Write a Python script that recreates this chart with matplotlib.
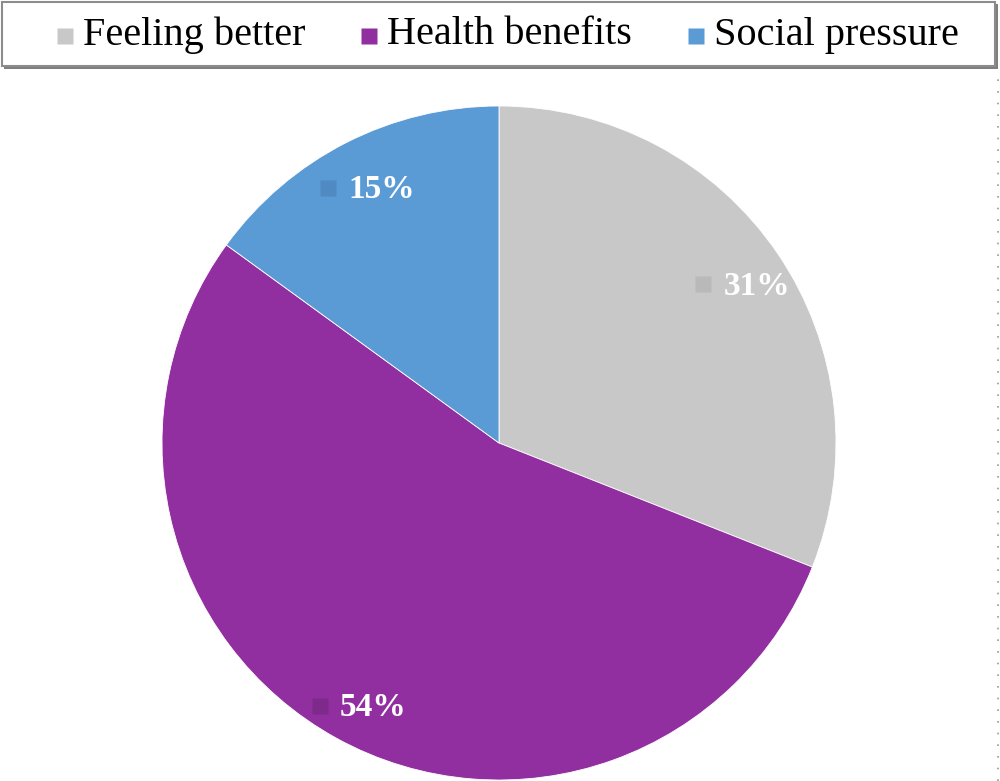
import numpy as np
import matplotlib.pyplot as plt
from matplotlib.patches import Rectangle

# Data
categories = ['Feeling better', 'Health benefits', 'Social pressure']
shares = [31, 54, 15]
colors = ['#c8c8c8', '#912fa0', '#5b9bd5']
marker_colors = ['#b9b9b9', '#7d2a8b', '#4f8ac2']

plt.rcParams['font.family'] = ['Liberation Serif', 'DejaVu Serif']

W, H = 1000, 781
fig = plt.figure(figsize=(W / 100, H / 100), dpi=100)
ax = fig.add_axes([0, 0, 1, 1])
ax.set_xlim(0, W)
ax.set_ylim(0, H)
ax.set_aspect('equal')
ax.axis('off')

# Pie (clockwise from top)
cx, cy, r = 499, H - 443, 337
wedges, _ = ax.pie(shares, colors=colors, startangle=90, counterclock=False,
                   center=(cx, cy), radius=r,
                   wedgeprops=dict(edgecolor='white', linewidth=0.6))
ax.set_xlim(0, W)
ax.set_ylim(0, H)

# Data labels: small square + white bold percentage
for w, s, mc in zip(wedges, shares, marker_colors):
    th = np.deg2rad((w.theta1 + w.theta2) / 2)
    gx = cx + 0.87 * r * np.cos(th)
    gy = cy + 0.87 * r * np.sin(th) - 8
    ax.plot(gx - 38, gy + 2, marker='s', ms=11, color=mc, mec='none')
    ax.text(gx - 18, gy, f'{s}%', color='white', fontsize=24, fontweight='bold',
            ha='left', va='center')

# Legend box at top
ax.add_patch(Rectangle((4, H - 69), 994, 65, facecolor='#7f7f7f', edgecolor='none'))
ax.add_patch(Rectangle((2, H - 66), 993, 64, facecolor='white', edgecolor='#8c8c8c', lw=1.5))
leg_x = [58, 362, 689]
for x, lab, c in zip(leg_x, categories, colors):
    ax.plot(x + 7, H - 36, marker='s', ms=11, color=c, mec='none')
    ax.text(x + 25, H - 35, lab, fontsize=29, ha='left', va='center', color='black')

# Dotted right edge
ax.plot([998, 998], [0, H - 72], color='#9a9a9a', lw=1.2, ls=(0, (1, 6)))

fig.savefig('out.png', dpi=100)
